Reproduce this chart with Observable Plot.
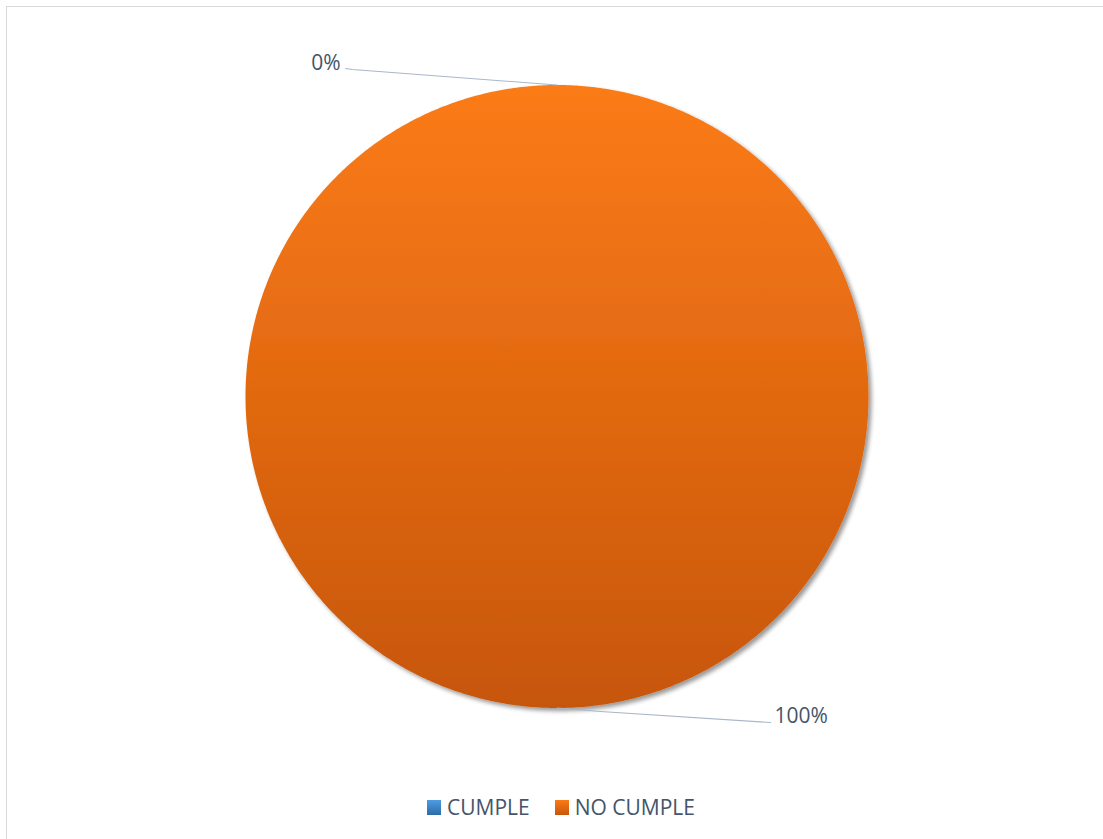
<!DOCTYPE html>
<html>
<head>
<meta charset="utf-8">
<script src="https://cdn.jsdelivr.net/npm/d3@7"></script>
<script src="https://cdn.jsdelivr.net/npm/@observablehq/plot@0.6"></script>
<style>
html,body{margin:0;padding:0;background:#fff;width:1103px;height:839px;overflow:hidden;font-family:"Open Sans",sans-serif;}
#frame{position:absolute;left:6px;top:6px;width:1130px;height:870px;border:1px solid #D9D9D9;box-sizing:border-box;}
#chart{position:absolute;left:0;top:0;}
#legend{position:absolute;top:793px;left:0;width:1103px;display:flex;justify-content:center;gap:25px;padding-left:19px;box-sizing:border-box;font-size:21px;color:#44546A;}
.item{display:flex;align-items:center;}
.sw{width:14px;height:15px;margin-right:6px;}
</style>
</head>
<body>
<div id="frame"></div>
<div id="chart"></div>
<div id="legend"></div>
<script>
// ---- data ----
const categories = ["CUMPLE", "NO CUMPLE"];
const values = [0, 100];
const labels = ["0%", "100%"];
const colorTop = ["#4C9CE2", "#FB7B16"];
const colorBottom = ["#2E6CA6", "#C7560C"];

// ---- layout ----
const W = 1103, H = 780;
const R = 311.5, CX = 556.5, CY = 396;
// label placement (pixel offsets relative to pie center)
const labelLayout = [
  {tx: 340 - CX, ty: 63 - CY, anchor: "end", lineEnd: [345 - CX, 68 - CY], elbow: [352 - CX, 69 - CY]},
  {tx: 774 - CX, ty: 716 - CY, anchor: "start", lineEnd: [770 - CX, 722 - CY], elbow: [600 - CX, 711 - CY]}
];

const arcs = d3.pie().sort(null).startAngle(0).endAngle(2 * Math.PI)(values);

// slice polygons in unit coordinates (radius 1, y downward)
const slicePts = [];
arcs.forEach((a, i) => {
  const span = a.endAngle - a.startAngle;
  if (span <= 0) return;
  const n = Math.max(2, Math.ceil(span / (Math.PI / 360)));
  if (span < 2 * Math.PI - 1e-9) slicePts.push({cat: categories[i], x: 0, y: 0});
  for (let k = 0; k <= n; k++) {
    const t = a.startAngle + span * k / n;
    slicePts.push({cat: categories[i], x: Math.sin(t), y: -Math.cos(t)});
  }
});

// leader lines & labels
const leaderPts = [];
const labelData = [];
arcs.forEach((a, i) => {
  const m = (a.startAngle + a.endAngle) / 2;
  const L = labelLayout[i];
  const p0 = {x: Math.sin(m), y: -Math.cos(m)};
  leaderPts.push({id: i, x: p0.x, y: p0.y});
  leaderPts.push({id: i, x: L.elbow[0] / R, y: L.elbow[1] / R});
  leaderPts.push({id: i, x: L.lineEnd[0] / R, y: L.lineEnd[1] / R});
  labelData.push({text: labels[i], x: L.tx / R, y: L.ty / R, anchor: L.anchor});
});

const slicesByCat = d3.groups(slicePts, d => d.cat);

const marks = [];
slicesByCat.forEach(([cat, pts]) => {
  const i = categories.indexOf(cat);
  marks.push(Plot.line(pts, {x: "x", y: "y", fill: `url(#grad${i})`, stroke: "none", curve: "linear"}));
});
marks.push(Plot.line(leaderPts, {x: "x", y: "y", z: "id", stroke: "#A9B7C9", strokeWidth: 1.1}));
labelData.forEach(d => {
  marks.push(Plot.text([d], {x: "x", y: "y", text: "text", textAnchor: d.anchor, fontSize: 21, fill: "#44546A", fontFamily: "Open Sans"}));
});

const svg = Plot.plot({
  width: W, height: H,
  margin: 0,
  x: {domain: [-CX / R, (W - CX) / R], range: [0, W], axis: null},
  y: {domain: [-CY / R, (H - CY) / R], range: [0, H], axis: null},
  style: {background: "transparent", overflow: "visible"},
  marks
});

const defs = d3.select(svg).insert("defs", ":first-child");
categories.forEach((c, i) => {
  const g = defs.append("linearGradient").attr("id", `grad${i}`).attr("x1", 0).attr("y1", 0).attr("x2", 0).attr("y2", 1);
  g.append("stop").attr("offset", "0%").attr("stop-color", colorTop[i]);
  g.append("stop").attr("offset", "100%").attr("stop-color", colorBottom[i]);
});
const f = defs.append("filter").attr("id", "shadow").attr("x", "-10%").attr("y", "-10%").attr("width", "120%").attr("height", "120%");
f.append("feDropShadow").attr("dx", 3).attr("dy", 3).attr("stdDeviation", 2.2).attr("flood-color", "#000").attr("flood-opacity", 0.4);
d3.select(svg).selectAll("g").filter(function(){ return (this.getAttribute("fill")||"").startsWith("url(#grad"); }).attr("filter", "url(#shadow)");

document.getElementById("chart").appendChild(svg);

// legend
const leg = document.getElementById("legend");
categories.forEach((c, i) => {
  const it = document.createElement("div");
  it.className = "item";
  const sw = document.createElement("div");
  sw.className = "sw";
  sw.style.background = `linear-gradient(${colorTop[i]}, ${colorBottom[i]})`;
  const tx = document.createElement("span");
  tx.textContent = c;
  it.appendChild(sw); it.appendChild(tx);
  leg.appendChild(it);
});
</script>
</body>
</html>
